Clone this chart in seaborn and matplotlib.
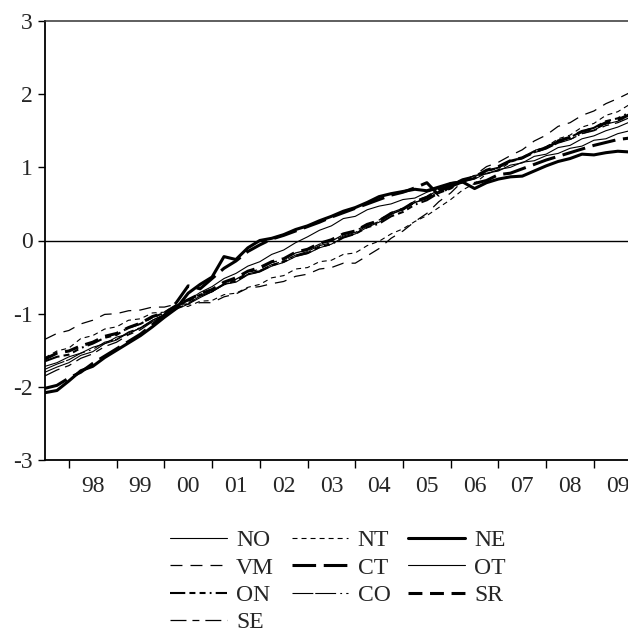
import matplotlib
matplotlib.use("Agg")
import matplotlib.pyplot as plt
import seaborn as sns
import pandas as pd
import numpy as np
from matplotlib.lines import Line2D
from matplotlib.ticker import FixedLocator, FixedFormatter

sns.set_style("white")
plt.rcParams['font.family'] = ['Liberation Serif', 'DejaVu Serif']
plt.rcParams['lines.scale_dashes'] = False

# ---- data: quarterly, 1997Q3 .. 2009Q4 ----
quarters = pd.period_range("1997Q3", "2009Q4", freq="Q")
t = [q.year + (q.quarter - 1) / 4 for q in quarters]

NO = [-1.72, -1.67, -1.59, -1.54, -1.46, -1.41, -1.32, -1.28, -1.19, -1.11,
      -1.03, -0.94, -0.87, -0.78, -0.70, -0.60, -0.57, -0.47, -0.43, -0.35,
      -0.30, -0.22, -0.18, -0.10, -0.05, 0.04, 0.09, 0.18, 0.25, 0.36,
      0.43, 0.52, 0.57, 0.67, 0.72, 0.80, 0.84, 0.92, 0.95, 1.03,
      1.06, 1.15, 1.18, 1.27, 1.30, 1.39, 1.43, 1.50, 1.55, 1.62]
NT = [-1.60, -1.51, -1.47, -1.34, -1.30, -1.21, -1.18, -1.09, -1.07, -0.99,
      -0.98, -0.91, -0.90, -0.83, -0.82, -0.74, -0.72, -0.64, -0.60, -0.51,
      -0.48, -0.39, -0.37, -0.29, -0.27, -0.19, -0.17, -0.07, -0.01, 0.09,
      0.16, 0.26, 0.34, 0.45, 0.56, 0.69, 0.78, 0.91, 0.96, 1.07,
      1.12, 1.23, 1.28, 1.39, 1.44, 1.55, 1.60, 1.71, 1.76, 1.86]
NE = [-2.08, -2.05, -1.92, -1.78, -1.72, -1.60, -1.50, -1.40, -1.30, -1.18,
      -1.05, -0.93, -0.72, -0.60, -0.50, -0.22, -0.26, -0.10, 0.00, 0.03,
      0.08, 0.15, 0.20, 0.27, 0.33, 0.40, 0.45, 0.52, 0.60, 0.64,
      0.67, 0.70, 0.68, 0.73, 0.78, 0.80, 0.71, 0.79, 0.84, 0.87,
      0.88, 0.95, 1.02, 1.08, 1.12, 1.18, 1.17, 1.20, 1.22, 1.21]
VM = [-1.35, -1.27, -1.23, -1.14, -1.09, -1.01, -1.00, -0.96, -0.95, -0.91,
      -0.91, -0.87, -0.87, -0.85, -0.85, -0.77, -0.73, -0.65, -0.63, -0.59,
      -0.56, -0.49, -0.46, -0.39, -0.37, -0.31, -0.31, -0.21, -0.11, 0.03,
      0.13, 0.26, 0.37, 0.53, 0.65, 0.81, 0.89, 1.01, 1.07, 1.16,
      1.24, 1.36, 1.44, 1.56, 1.61, 1.71, 1.77, 1.87, 1.94, 2.02]
CT = [-2.02, -1.98, -1.88, -1.80, -1.68, -1.58, -1.48, -1.38, -1.28, -1.15,
      -1.02, -0.85, -0.62, -0.66, -0.52, -0.38, -0.28, -0.15, -0.06, 0.02,
      0.07, 0.13, 0.19, 0.25, 0.32, 0.38, 0.44, 0.50, 0.56, 0.62,
      0.66, 0.72, 0.79, 0.62, 0.75, 0.80, 0.78, 0.82, 0.90, 0.92,
      0.98, 1.04, 1.10, 1.15, 1.20, 1.25, 1.30, 1.34, 1.38, 1.40]
OT = [-1.80, -1.73, -1.67, -1.57, -1.52, -1.41, -1.36, -1.26, -1.20, -1.09,
      -1.01, -0.89, -0.82, -0.71, -0.63, -0.52, -0.45, -0.35, -0.29, -0.19,
      -0.13, -0.03, 0.05, 0.14, 0.20, 0.30, 0.33, 0.42, 0.47, 0.50,
      0.56, 0.58, 0.66, 0.71, 0.79, 0.82, 0.89, 0.91, 0.97, 1.00,
      1.07, 1.09, 1.16, 1.19, 1.26, 1.29, 1.37, 1.39, 1.46, 1.50]
ON = [-1.65, -1.59, -1.56, -1.47, -1.41, -1.33, -1.29, -1.19, -1.14, -1.05,
      -0.99, -0.89, -0.83, -0.74, -0.69, -0.60, -0.55, -0.46, -0.42, -0.34,
      -0.29, -0.21, -0.17, -0.09, -0.05, 0.04, 0.09, 0.18, 0.23, 0.33,
      0.39, 0.49, 0.55, 0.65, 0.71, 0.81, 0.85, 0.95, 0.99, 1.09,
      1.13, 1.22, 1.27, 1.36, 1.41, 1.49, 1.54, 1.63, 1.67, 1.75]
CO = [-1.76, -1.69, -1.63, -1.54, -1.49, -1.39, -1.35, -1.25, -1.19, -1.09,
      -1.02, -0.92, -0.86, -0.76, -0.70, -0.60, -0.55, -0.46, -0.41, -0.33,
      -0.28, -0.20, -0.15, -0.07, -0.03, 0.06, 0.11, 0.20, 0.26, 0.36,
      0.42, 0.52, 0.58, 0.67, 0.73, 0.82, 0.86, 0.95, 0.99, 1.08,
      1.12, 1.20, 1.25, 1.33, 1.38, 1.46, 1.51, 1.59, 1.63, 1.70]
SR = [-1.62, -1.54, -1.51, -1.44, -1.39, -1.31, -1.27, -1.19, -1.13, -1.04,
      -0.99, -0.89, -0.81, -0.73, -0.67, -0.57, -0.51, -0.42, -0.37, -0.29,
      -0.25, -0.16, -0.12, -0.04, 0.01, 0.09, 0.13, 0.22, 0.27, 0.37,
      0.43, 0.53, 0.59, 0.69, 0.75, 0.83, 0.87, 0.96, 1.01, 1.09,
      1.13, 1.21, 1.27, 1.36, 1.41, 1.49, 1.53, 1.61, 1.65, 1.72]
SE = [-1.85, -1.77, -1.71, -1.61, -1.55, -1.45, -1.39, -1.29, -1.22, -1.11,
      -1.04, -0.93, -0.86, -0.76, -0.70, -0.59, -0.53, -0.44, -0.39, -0.30,
      -0.26, -0.17, -0.13, -0.05, -0.01, 0.08, 0.13, 0.22, 0.28, 0.38,
      0.44, 0.54, 0.60, 0.69, 0.74, 0.83, 0.87, 0.96, 1.00, 1.09,
      1.13, 1.21, 1.26, 1.34, 1.38, 1.46, 1.50, 1.57, 1.61, 1.68]

series_names = ["NO", "NT", "NE", "VM", "CT", "OT", "ON", "CO", "SR", "SE"]
series_vals = [NO, NT, NE, VM, CT, OT, ON, CO, SR, SE]

year_ticks = list(range(1998, 2010))
year_labels = [f"{y % 100:02d}" for y in year_ticks]

# ---- styles ----
styles = {
    "NO": dict(lw=0.8, ls="-"),
    "NT": dict(lw=0.8, ls=(0, (3.6, 2.9))),
    "NE": dict(lw=2.2, ls="-"),
    "VM": dict(lw=0.9, ls=(0, (8.6, 5.8))),
    "CT": dict(lw=2.2, ls=(0, (17, 5.5))),
    "OT": dict(lw=0.8, ls="-"),
    "ON": dict(lw=1.5, ls=(0, (11, 3, 4.3, 3, 4.3, 3, 1.3, 3))),
    "CO": dict(lw=0.8, ls=(0, (15, 1.4, 15, 3, 1.3, 3))),
    "SR": dict(lw=2.2, ls=(0, (10, 5.5))),
    "SE": dict(lw=0.9, ls=(0, (11.5, 4.3, 5, 4.3))),
}

W, H = 628, 636
fig = plt.figure(figsize=(W / 100, H / 100), dpi=100)
ax = fig.add_axes([45 / W, (H - 460) / H, 584.7 / W, 439 / H])

for name, vals in zip(series_names, series_vals):
    st = styles[name]
    sns.lineplot(x=t, y=vals, ax=ax, color="black", linewidth=st["lw"],
                 linestyle=st["ls"], legend=False)

ax.axhline(0, color="black", lw=1.0, zorder=0)

ax.set_xlim(1997.5, 2009.75)
ax.set_ylim(-3, 3)

ax.xaxis.set_major_locator(FixedLocator(year_ticks))
ax.xaxis.set_major_formatter(FixedFormatter([""] * len(year_ticks)))
ax.xaxis.set_minor_locator(FixedLocator([y + 0.5 for y in year_ticks]))
ax.xaxis.set_minor_formatter(FixedFormatter(year_labels))
ax.tick_params(axis="x", which="major", direction="out", length=5.8, width=1.0,
               bottom=True, color="black")
ax.tick_params(axis="x", which="minor", length=0, pad=11.3, labelsize=17,
               bottom=True)
ax.set_yticks([-3, -2, -1, 0, 1, 2, 3])
ax.set_yticklabels(["-3", "-2", "-1", "0", "1", "2", "3"])
ax.tick_params(axis="y", direction="out", length=5, width=1.0, pad=4.0,
               labelsize=17, left=True, color="black")
ax.set_xlabel("")
ax.set_ylabel("")

for s in ["left", "bottom"]:
    ax.spines[s].set_color("black")
    ax.spines[s].set_linewidth(1.3)
ax.spines["top"].set_color("#333333")
ax.spines["top"].set_linewidth(1.1)
ax.spines["right"].set_visible(False)

order = ["NO", "VM", "ON", "SE", "NT", "CT", "CO", "NE", "OT", "SR"]
handles = [Line2D([0], [0], color="black", linewidth=styles[n]["lw"],
                  linestyle=styles[n]["ls"]) for n in order]
fig.legend(handles, order, loc="center", bbox_to_anchor=(338 / W, 1 - 581.5 / H),
           ncol=3, frameon=False, fontsize=17, handlelength=2.4,
           handletextpad=0.4, columnspacing=0.75, labelspacing=0.25,
           borderpad=0, borderaxespad=0)

fig.savefig("out.png", dpi=100)
